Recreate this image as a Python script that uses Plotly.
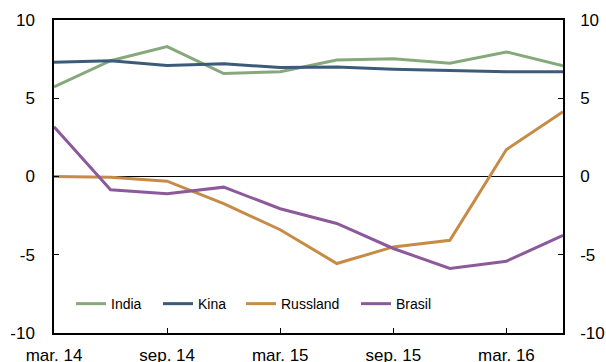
import plotly.graph_objects as go

# Quarterly periods, March 2014 to June 2016
quarters = ["mar. 14", "jun. 14", "sep. 14", "des. 14", "mar. 15", "jun. 15",
            "sep. 15", "des. 15", "mar. 16", "jun. 16"]

india = [5.73, 7.4, 8.3, 6.58, 6.7, 7.45, 7.53, 7.24, 7.96, 7.07]
kina = [7.3, 7.4, 7.1, 7.2, 6.97, 7.0, 6.86, 6.8, 6.7, 6.7]
russland = [0.0, -0.05, -0.3, -1.74, -3.4, -5.56, -4.5, -4.08, 1.72, 4.14]
brasil = [3.18, -0.85, -1.1, -0.68, -2.06, -3.0, -4.6, -5.88, -5.41, -3.76]

x_ticks = ["mar. 14", "sep. 14", "mar. 15", "sep. 15", "mar. 16"]
y_ticks = [-10, -5, 0, 5, 10]
y_ticktext = ["-10", "-5", "0", "5", "10"]

FONT = "Liberation Sans, Arial, sans-serif"
TICKFONT = dict(family=FONT, size=17, color="#000000")

series = [
    ("India", india, "#86a97b", "legend", 71),
    ("Kina", kina, "#3c5b79", "legend2", 158),
    ("Russland", russland, "#c68c47", "legend3", 241),
    ("Brasil", brasil, "#8c5a9b", "legend4", 356),
]

fig = go.Figure()
for name, vals, color, leg, _ in series:
    fig.add_trace(go.Scatter(
        x=quarters, y=vals, name=name, mode="lines",
        line=dict(color=color, width=3),
        legend=leg,
        yaxis="y2" if name == "Brasil" else "y",
    ))

L, R, T, B = 54, 43, 19.5, 29
W, H = 606, 362
pw = W - L - R
ph = H - T - B

legend_y = (H - B - 304) / ph
legends = {}
for name, vals, color, leg, px in series:
    legends[leg] = dict(
        x=(px - L) / pw, y=legend_y, xanchor="left", yanchor="middle",
        orientation="h", bgcolor="rgba(0,0,0,0)", borderwidth=0,
        font=dict(family=FONT, size=14, color="#000000"),
        itemwidth=30,
    )

yaxis_common = dict(
    range=[-10, 10], tickvals=y_ticks, ticktext=y_ticktext,
    ticks="inside", ticklen=5, tickcolor="#000000", tickwidth=1,
    showgrid=False, showline=True, linecolor="#000000", linewidth=1.5,
    tickfont=TICKFONT, fixedrange=True, automargin=False,
)

fig.update_layout(
    width=W, height=H,
    margin=dict(l=L, r=R, t=T, b=B, pad=0),
    paper_bgcolor="white", plot_bgcolor="white",
    showlegend=True,
    xaxis=dict(
        type="category", range=[0, len(quarters) - 1],
        tickvals=x_ticks, ticktext=x_ticks,
        ticks="inside", ticklen=5, tickcolor="#000000", tickwidth=1,
        showgrid=False, showline=True, mirror=True,
        linecolor="#000000", linewidth=1.5, tickfont=TICKFONT,
        ticklabelstandoff=6, automargin=False,
    ),
    yaxis=dict(**yaxis_common, side="left", zeroline=True,
               zerolinecolor="#000000", zerolinewidth=1,
               ticklabelstandoff=14),
    yaxis2=dict(**yaxis_common, side="right", overlaying="y",
                zeroline=False, ticklabelstandoff=12),
    **legends,
)

fig.write_html("out.html")
